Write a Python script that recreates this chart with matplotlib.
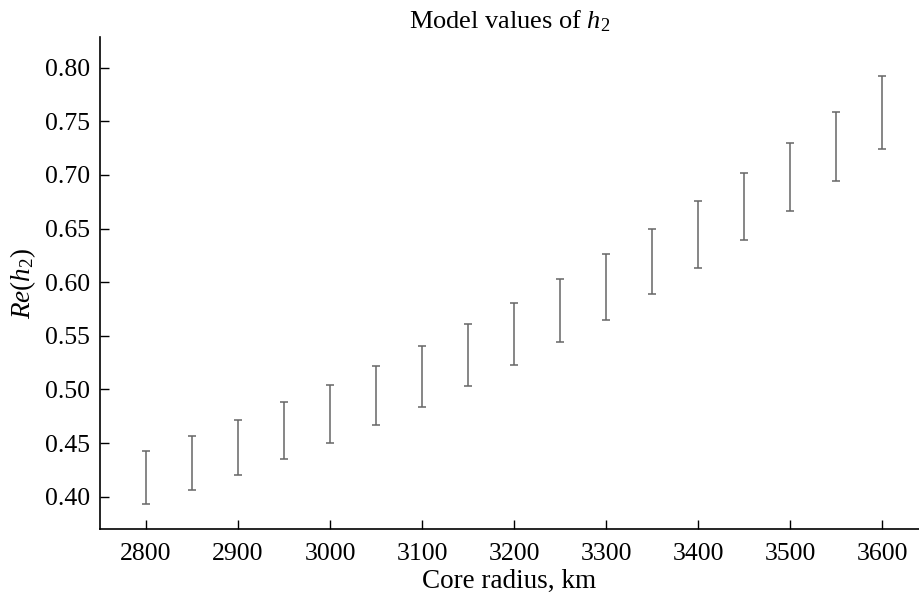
import numpy as np
import matplotlib
matplotlib.use('Agg')
import matplotlib.pyplot as plt

plt.rcParams['font.family'] = ['Liberation Serif', 'DejaVu Serif']
plt.rcParams['mathtext.fontset'] = 'custom'
plt.rcParams['mathtext.rm'] = 'Liberation Serif'
plt.rcParams['mathtext.it'] = 'Liberation Serif:italic'

# core radius, km and model ranges of Re(h2)
radius = [2800, 2850, 2900, 2950, 3000, 3050, 3100, 3150, 3200,
          3250, 3300, 3350, 3400, 3450, 3500, 3550, 3600]
h2_low = [0.393, 0.406, 0.420, 0.435, 0.450, 0.467, 0.484, 0.503, 0.523,
          0.544, 0.565, 0.589, 0.613, 0.639, 0.666, 0.694, 0.724]
h2_high = [0.443, 0.457, 0.472, 0.488, 0.504, 0.522, 0.541, 0.561, 0.581,
           0.603, 0.626, 0.650, 0.676, 0.702, 0.730, 0.759, 0.792]

x = np.array(radius)
lo = np.array(h2_low)
hi = np.array(h2_high)
mid = (lo + hi) / 2

fig = plt.figure(figsize=(9.19, 5.97), dpi=100)
ax = fig.add_axes([0.1088, 0.114, 0.8912, 0.824])

ax.errorbar(x, mid, yerr=[mid - lo, hi - mid], fmt='none', ecolor='#666666',
            elinewidth=1.1, capsize=3.2, capthick=1.1)

ax.set_xlim(2750, 3640)
ax.set_ylim(0.370, 0.8286)
ax.set_xticks(np.arange(2800, 3601, 100))
ax.set_yticks(np.arange(0.40, 0.801, 0.05))
ax.yaxis.set_major_formatter(matplotlib.ticker.FormatStrFormatter('%.2f'))

for s in ['top', 'right']:
    ax.spines[s].set_visible(False)
for s in ['left', 'bottom']:
    ax.spines[s].set_linewidth(1.2)
ax.tick_params(direction='in', length=6.5, width=1.0, labelsize=18.5)
ax.tick_params(axis='y', pad=7)
ax.tick_params(axis='x', pad=10)

ax.set_title('Model values of $h_2$', fontsize=19, pad=6)
ax.set_xlabel('Core radius, km', fontsize=19.5, labelpad=3)
ax.set_ylabel(r'$\mathit{Re}(h_2)$', fontsize=19.5, labelpad=5)

fig.savefig('out.png', dpi=100)
